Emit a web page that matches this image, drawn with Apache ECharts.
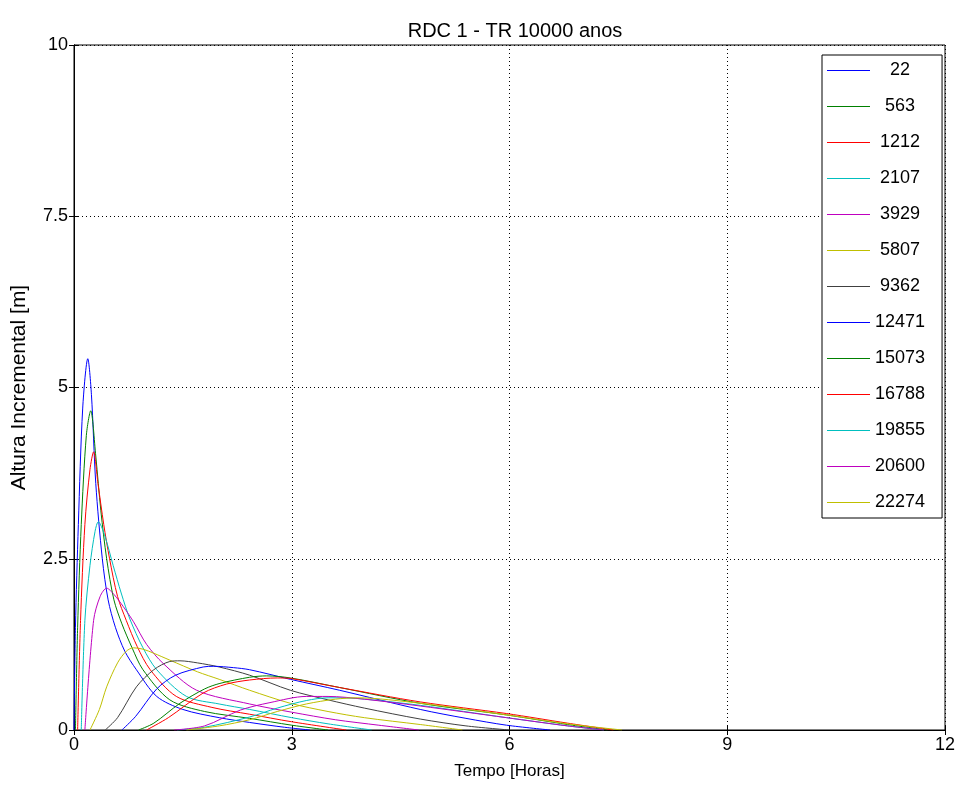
<!DOCTYPE html>
<html><head><meta charset="utf-8">
<script src="https://cdn.jsdelivr.net/npm/echarts@6/dist/echarts.min.js"></script>
<style>html,body{margin:0;padding:0;background:#fff}#c{width:958px;height:785px}</style>
</head><body><div id="c"></div>
<script>
const seriesNames = ['22','563','1212','2107','3929','5807','9362','12471','15073','16788','19855','20600','22274'];
const colors = ['#0000ff','#008000','#ff0000','#00bfbf','#bf00bf','#bfbf00','#404040','#0000ff','#008000','#ff0000','#00bfbf','#bf00bf','#bfbf00'];
const xTicks = [0,3,6,9,12];
const yTicks = [0,2.5,5,7.5,10];

const h22 = [[0,0],[0.02,1.5],[0.06,3.0],[0.12,4.7],[0.19,5.42],[0.24,4.9],[0.3,3.6],[0.39,2.5],[0.47,1.9],[0.57,1.5],[0.7,1.15],[0.86,0.88],[1.14,0.49],[1.5,0.3],[2.0,0.18],[2.42,0.11],[2.9,0.04],[3.25,0]];
const h563 = [[0.02,0],[0.05,1.5],[0.1,3.0],[0.17,4.3],[0.23,4.66],[0.3,4.0],[0.37,3.2],[0.45,2.5],[0.55,1.9],[0.66,1.55],[0.8,1.2],[0.95,0.88],[1.32,0.44],[1.8,0.27],[2.42,0.17],[3.0,0.07],[3.5,0]];
const h1212 = [[0.05,0],[0.09,1.6],[0.15,3.0],[0.22,3.8],[0.27,4.06],[0.33,3.6],[0.41,3.0],[0.49,2.5],[0.6,1.95],[0.72,1.6],[0.87,1.22],[1.05,0.88],[1.41,0.49],[1.9,0.33],[2.42,0.23],[3.0,0.12],[3.75,0]];
const h2107 = [[0.1,0],[0.15,1.6],[0.22,2.4],[0.29,2.9],[0.335,3.04],[0.42,2.85],[0.54,2.4],[0.65,2.0],[0.77,1.62],[0.95,1.2],[1.14,0.88],[1.55,0.49],[2.0,0.38],[2.42,0.3],[3.0,0.18],[3.5,0.09],[4.1,0]];
const h3929 = [[0.15,0],[0.27,1.6],[0.36,1.95],[0.45,2.07],[0.55,1.98],[0.68,1.8],[0.82,1.58],[1.0,1.25],[1.23,0.97],[1.69,0.58],[2.42,0.38],[3.0,0.26],[3.6,0.15],[4.2,0.07],[4.75,0]];
const h5807 = [[0.22,0],[0.35,0.3],[0.45,0.63],[0.6,0.98],[0.72,1.15],[0.82,1.2],[0.95,1.18],[1.1,1.12],[1.32,1.02],[1.7,0.85],[2.0,0.74],[2.42,0.58],[2.98,0.39],[3.5,0.27],[4.0,0.18],[4.77,0.08],[5.35,0]];
const h9362 = [[0.43,0],[0.6,0.18],[0.86,0.63],[1.1,0.88],[1.32,1.0],[1.46,1.01],[1.7,0.98],[2.0,0.92],[2.42,0.8],[2.98,0.58],[3.5,0.44],[4.0,0.32],[4.77,0.16],[5.4,0.06],[6.0,0]];
const h12471 = [[0.66,0],[0.85,0.2],[1.14,0.6],[1.4,0.8],[1.78,0.92],[1.92,0.93],[2.2,0.91],[2.42,0.88],[2.98,0.74],[3.66,0.58],[4.77,0.3],[5.4,0.17],[5.96,0.07],[6.56,0]];
const h15073 = [[0.89,0],[1.1,0.1],[1.46,0.39],[1.8,0.6],[2.01,0.68],[2.42,0.77],[2.65,0.79],[2.98,0.76],[3.66,0.62],[4.77,0.39],[5.96,0.22],[6.8,0.08],[7.35,0]];
const h16788 = [[1.0,0],[1.3,0.18],[1.78,0.54],[2.1,0.67],[2.42,0.73],[2.8,0.76],[3.0,0.75],[3.66,0.62],[4.77,0.41],[5.96,0.24],[6.8,0.1],[7.43,0]];
const h19855 = [[1.42,0],[1.8,0.04],[2.42,0.19],[2.8,0.32],[3.2,0.43],[3.5,0.47],[3.9,0.46],[4.77,0.36],[5.96,0.18],[6.8,0.06],[7.3,0]];
const h20600 = [[1.38,0],[1.8,0.06],[2.29,0.29],[2.7,0.4],[3.2,0.49],[3.5,0.49],[4.0,0.45],[4.77,0.35],[5.96,0.18],[6.8,0.06],[7.3,0]];
const h22274 = [[1.55,0],[2.0,0.06],[2.42,0.15],[2.8,0.27],[3.2,0.38],[3.6,0.45],[3.9,0.47],[4.77,0.39],[5.96,0.22],[6.8,0.09],[7.55,0]];

const allData = [h22,h563,h1212,h2107,h3929,h5807,h9362,h12471,h15073,h16788,h19855,h20600,h22274];

const font = "'Liberation Sans', Arial, sans-serif";
const chart = echarts.init(document.getElementById('c'));
const axisCommon = {
  axisLine:{show:true,lineStyle:{color:'#000',width:1}},
  axisTick:{show:true,inside:true,length:5,lineStyle:{color:'#000'}},
  splitLine:{show:true,lineStyle:{color:'#000',type:[1,3],width:1}},
};
const sideAxis = {axisLabel:{show:false},axisLine:{show:true,lineStyle:{color:'#000'}},axisTick:{show:true,inside:true,length:5,lineStyle:{color:'#000'}},splitLine:{show:false}};
chart.setOption({
  animation:false,
  backgroundColor:'#fff',
  color:colors,
  title:{text:'RDC 1 - TR 10000 anos',left:510,textAlign:'center',top:16,textStyle:{fontFamily:font,fontSize:20,fontWeight:'normal',color:'#000'}},
  grid:{left:74,right:13,top:45,bottom:55,show:true,borderColor:'#000',borderWidth:1,outerBoundsMode:'none',containLabel:false},
  xAxis:[{type:'value',min:0,max:12,interval:3,name:'Tempo [Horas]',nameLocation:'middle',nameGap:33,
    nameTextStyle:{fontFamily:font,fontSize:17,color:'#000'},
    axisLabel:{fontFamily:font,fontSize:18,color:'#000',margin:6},...axisCommon},
    {type:'value',position:'top',min:0,max:12,interval:3,...sideAxis}],
  yAxis:[{type:'value',min:0,max:10,interval:2.5,name:'Altura Incremental [m]',nameLocation:'middle',nameGap:44,
    nameTextStyle:{fontFamily:font,fontSize:21,color:'#000'},
    axisLabel:{fontFamily:font,fontSize:18,color:'#000',margin:6},...axisCommon},
    {type:'value',position:'right',min:0,max:10,interval:2.5,...sideAxis}],
  legend:{orient:'vertical',left:822,top:55,padding:[5,17,5,5],
    backgroundColor:'#fff',borderColor:'#000',borderWidth:1,
    icon:'rect',itemWidth:43,itemHeight:1,itemGap:15,
    formatter:function(n){return ' '.repeat(5-n.length)+n;},
    textStyle:{fontFamily:font,fontSize:18,color:'#000',lineHeight:21},
    data:seriesNames.map((n,i)=>({name:n,itemStyle:{color:colors[i]}}))},
  series: allData.map((d,i)=>({
    name:seriesNames[i],type:'line',data:d,showSymbol:false,smooth:0.3,
    color:colors[i],lineStyle:{color:colors[i],width:1},itemStyle:{color:colors[i]},z:2
  }))
});
</script></body></html>
